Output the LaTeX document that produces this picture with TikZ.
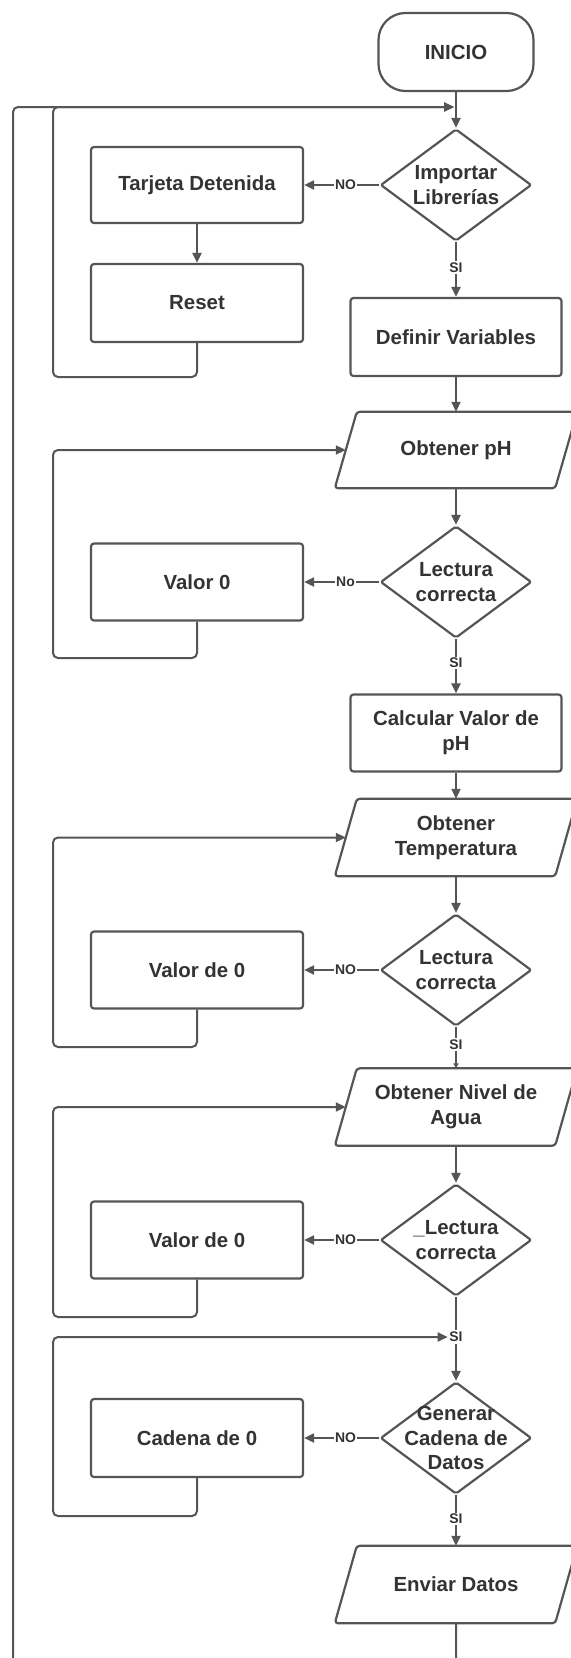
\documentclass[tikz,border=0pt]{standalone}
\usepackage{fontspec}
\setmainfont{Liberation Sans}
\usetikzlibrary{arrows.meta,shapes.geometric,calc}

\definecolor{edge}{HTML}{555555}
\definecolor{ink}{HTML}{333333}

\tikzset{
  txtfont/.style={font=\fontsize{20.5}{25}\selectfont\bfseries},
  shapeline/.style={draw=edge, line width=2.2bp, line join=round},
  base/.style={shapeline, fill=white, text=ink, txtfont, align=center, inner sep=0pt},
  procbox/.style={base, rectangle, rounded corners=3bp, minimum width=212bp, minimum height=77bp},
  termbox/.style={base, rectangle, rounded corners=27bp, minimum width=155bp, minimum height=78bp},
  decbox/.style={shapeline, fill=white, diamond, rounded corners=2bp, minimum width=151bp, minimum height=112bp, inner sep=0pt},
  iotext/.style={text=ink, txtfont, align=center, minimum width=198bp, minimum height=76bp, inner sep=0pt},
  txt/.style={text=ink, txtfont, align=center, inner sep=0pt},
  wire/.style={draw=edge, line width=2bp},
  flow/.style={wire, -{Triangle[length=10bp,width=9bp]}},
  tinyflow/.style={wire, -{Triangle[length=5bp,width=5bp]}},
  loopline/.style={flow, rounded corners=5bp},
  tag/.style={fill=white, text=ink, font=\fontsize{14}{16}\selectfont\bfseries, inner sep=1.5bp},
}

% parallelogram frame around a text node
\newcommand\ioframe[1]{%
  \draw[shapeline, rounded corners=3bp]
    ($(#1.south west)+(-22bp,0)$) -- (#1.south east)
    -- ($(#1.north east)+(22bp,0)$) -- (#1.north west) -- cycle;
  \coordinate (#1-in) at ($(#1.west)+(-11bp,0)$);}

\begin{document}
\begin{tikzpicture}[x=1bp,y=-1bp]
\useasboundingbox (0,0) rectangle (571,1658);
\fill[white] (0,0) rectangle (571,1658);

% main column
\node[termbox] (inicio) at (456,52) {INICIO};
\coordinate (join) at (456,107);

\node[decbox] (d1) at (456,185) {};
\node[txt] (d1t) at (d1) {Importar\\Librerías};
\node[procbox, minimum height=76bp] (tarjeta) at (197,185) {Tarjeta Detenida};
\node[procbox, minimum height=78bp] (reset) at (197,303) {Reset};
\node[procbox, minimum width=211bp, minimum height=78bp] (definir) at (456,337) {Definir Variables};

\node[iotext] (ph) at (456,450) {Obtener pH};
\ioframe{ph}
\node[decbox] (d2) at (456,582) {};
\node[txt] (d2t) at (d2) {Lectura\\correcta};
\node[procbox] (v1) at (197,582) {Valor 0};
\node[procbox, minimum width=211bp] (calc) at (456,733) {Calcular Valor de\\pH};

\node[iotext, minimum height=77bp] (temp) at (456,837.5) {Obtener\\Temperatura};
\ioframe{temp}
\node[decbox] (d3) at (456,970) {};
\node[txt] (d3t) at (d3) {Lectura\\correcta};
\node[procbox] (v2) at (197,970) {Valor de 0};

\node[iotext, minimum height=77bp] (nivel) at (456,1107) {Obtener Nivel de\\Agua};
\ioframe{nivel}
\node[decbox] (d4) at (456,1240) {};
\node[txt] (d4t) at (d4) {\_Lectura\\correcta};
\node[procbox] (v3) at (197,1240) {Valor de 0};

\node[tag] (si5) at (456,1337) {SI};
\node[decbox] (d5) at (456,1438) {};
\node[txt] (d5t) at (d5) {Generar\\Cadena de\\Datos};
\node[procbox, minimum height=78bp] (v4) at (197,1438) {Cadena de 0};

\node[iotext, minimum height=77bp] (enviar) at (456,1584.5) {Enviar Datos};
\ioframe{enviar}

% straight connectors
\draw[flow] (inicio) -- (d1);
\draw[flow] (d1) -- node[tag, pos=0.46] {SI} (definir);
\draw[flow] (d1) -- node[tag, pos=0.45] {NO} (tarjeta);
\draw[flow] (tarjeta) -- (reset);
\draw[flow] (definir) -- (ph);
\draw[flow] (ph) -- (d2);
\draw[flow] (d2) -- node[tag, pos=0.45] {No} (v1);
\draw[flow] (d2) -- node[tag, pos=0.44] {SI} (calc);
\draw[flow] (calc) -- (temp);
\draw[flow] (temp) -- (d3);
\draw[flow] (d3) -- node[tag, pos=0.45] {NO} (v2);
\draw[tinyflow] (d3) -- node[tag, pos=0.42] {SI} (nivel);
\draw[flow] (nivel) -- (d4);
\draw[flow] (d4) -- node[tag, pos=0.45] {NO} (v3);
\draw[wire] (d4) -- (si5);
\draw[flow] (si5) -- (d5);
\draw[flow] (d5) -- node[tag, pos=0.45] {NO} (v4);
\draw[flow] (d5) -- node[tag, pos=0.47] {SI} (enviar);

% return loops
\draw[loopline, shorten >=2bp] (reset.south) |- (53,377) |- (join);
\draw[loopline] (v1.south) |- (53,658) |- (ph-in);
\draw[loopline] (v2.south) |- (53,1047) |- (temp-in);
\draw[loopline] (v3.south) |- (53,1317) |- (nivel-in);
\draw[loopline] (v4.south) |- (53,1516) |- (si5.west);

% main loop back to the start
\draw[loopline, shorten >=2bp] (enviar.south) -- (456,1700) -| (13,107) -- (join);
\end{tikzpicture}
\end{document}
